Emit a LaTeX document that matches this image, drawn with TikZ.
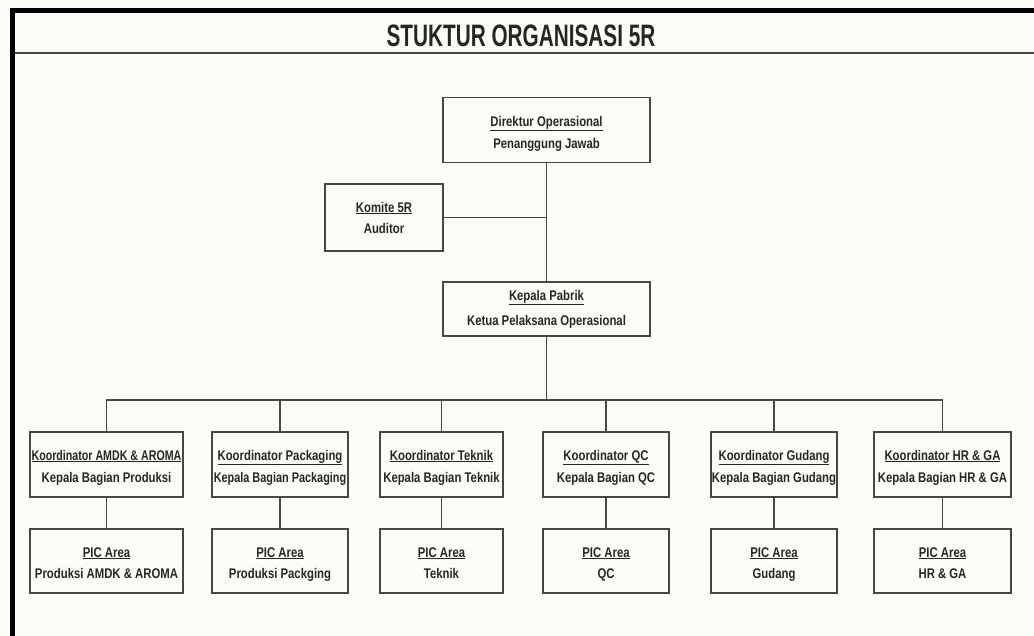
\documentclass[tikz,border=0pt]{standalone}
\usepackage{fontspec}
\setmainfont{Liberation Sans}[FakeStretch=0.81]
\newfontfamily\titlefont{Liberation Sans}[FakeStretch=0.67]
\definecolor{paper}{RGB}{252,252,247}
\definecolor{edge}{RGB}{70,70,70}
\newcommand\rowstrut{\rule[-3pt]{0pt}{19pt}}
\newcommand\topstrut{\rule[-2pt]{0pt}{20pt}}

\begin{document}
\begin{tikzpicture}[x=1pt,y=-1pt,
    box/.style={draw=edge, line width=1.3pt, fill=paper, rectangle, align=center,
        inner sep=0pt, text=black!85, font=\fontsize{14}{21}\selectfont\bfseries},
    link/.style={draw=edge, line width=1.3pt}]
    \fill[paper] (0,0) rectangle (1034,636);
    \useasboundingbox (0,0) rectangle (1034,636);

    % --- Frame and title ---
    \draw[line width=5pt] (12.5,636) -- (12.5,11) -- (1034,11);
    \draw[edge, line width=1.5pt] (15,53) -- (1034,53);
    \node[text=black!85, font=\titlefont\fontsize{31}{31}\selectfont\bfseries] (title) at (521,36) {STUKTUR ORGANISASI 5R};

    % --- Top of the chart ---
    \node[box, minimum width=207, minimum height=65] (dir) at (546.5,130) {\topstrut\underline{Direktur Operasional}\\[-1pt]\topstrut Penanggung Jawab};
    \node[box, minimum width=118, minimum height=67] (komite) at (384,217.5) {\underline{Komite 5R}\\Auditor};
    \node[box, minimum width=207, minimum height=54] (pabrik) at (546.5,309) {\underline{Kepala Pabrik}\\[4pt]Ketua Pelaksana Operasional};

    \draw[link] (dir) -- (pabrik);
    \draw[link] (komite.east) -- (komite.east -| dir.south);
    \coordinate (bus) at (pabrik.south |- 0,400);
    \draw[link] (pabrik) -- (bus);

    % --- Koordinator and PIC Area ---
    \foreach \n/\x/\w/\head/\role/\area in {
        1/106.5/153/{\scalebox{0.94}[1]{Koordinator AMDK \& AROMA}}/{Kepala Bagian Produksi}/{Produksi AMDK \& AROMA},
        2/280/136/{Koordinator Packaging}/{\scalebox{0.96}[1]{Kepala Bagian Packaging}}/{Produksi Packging},
        3/441.5/123/{Koordinator Teknik}/{Kepala Bagian Teknik}/{Teknik},
        4/606/126/{Koordinator QC}/{Kepala Bagian QC}/{QC},
        5/774/126/{Koordinator Gudang}/{Kepala Bagian Gudang}/{Gudang},
        6/942.5/137/{Koordinator HR \& GA}/{Kepala Bagian HR \& GA}/{HR \& GA}}
    {
        \node[box, minimum width=\w, minimum height=65] (koor\n) at (\x,464.5) {\rowstrut\underline{\head}\\[1pt]\rowstrut\role};
        \node[box, minimum width=\w, minimum height=64] (pic\n) at (\x,561) {\rowstrut\underline{PIC Area}\\\rowstrut\area};
        \draw[link] (bus) -| (koor\n.north);
        \draw[link] (koor\n) -- (pic\n);
    }
\end{tikzpicture}
\end{document}
